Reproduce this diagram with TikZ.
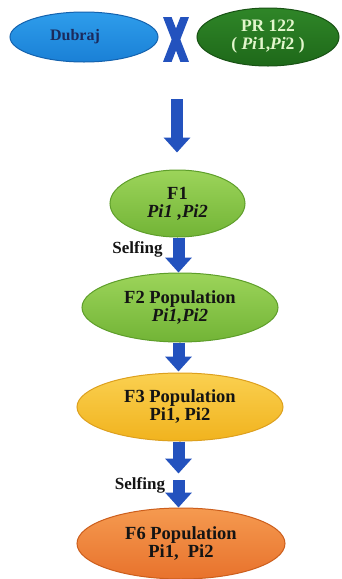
\documentclass[tikz,border=0pt]{standalone}
\usepackage{fontspec}
\setmainfont{Liberation Serif}
\usetikzlibrary{shapes.geometric,arrows.meta}
\definecolor{arrowblue}{HTML}{2352BE}
\definecolor{blueTop}{HTML}{2E9DEB}
\definecolor{blueBot}{HTML}{1A80D6}
\definecolor{blueEdge}{HTML}{1462AE}
\definecolor{dgTop}{HTML}{2F8628}
\definecolor{dgBot}{HTML}{1E6819}
\definecolor{dgEdge}{HTML}{185214}
\definecolor{lgTop}{HTML}{9CD45A}
\definecolor{lgBot}{HTML}{72B436}
\definecolor{lgEdge}{HTML}{5E9E2A}
\definecolor{yTop}{HTML}{FAD050}
\definecolor{yBot}{HTML}{F1B31E}
\definecolor{yEdge}{HTML}{DDA01E}
\definecolor{oTop}{HTML}{F59A50}
\definecolor{oBot}{HTML}{E8722C}
\definecolor{oEdge}{HTML}{CC5E1C}
\definecolor{navy}{HTML}{1B2A5C}
\definecolor{palegreen}{HTML}{E2F6CC}
\definecolor{ink}{HTML}{141414}
\tikzset{
  oval/.style={ellipse, inner sep=0pt, line width=1pt, align=center,
    font=\bfseries\fontsize{18.5}{18}\selectfont, text=ink},
  blueoval/.style={oval, draw=blueEdge, top color=blueTop, bottom color=blueBot, text=navy,
    font=\bfseries\fontsize{16}{17}\selectfont},
  dgoval/.style={oval, draw=dgEdge, top color=dgTop, bottom color=dgBot, text=palegreen,
    font=\bfseries\fontsize{17.5}{18}\selectfont},
  lgoval/.style={oval, draw=lgEdge, top color=lgTop, bottom color=lgBot},
  yoval/.style={oval, draw=yEdge, top color=yTop, bottom color=yBot},
  ooval/.style={oval, draw=oEdge, top color=oTop, bottom color=oBot},
  blockarrow/.style={draw=arrowblue, line width=12pt, line cap=butt,
    -{Triangle[width=26pt,length=15pt]}},
  crossline/.style={draw=arrowblue, line width=8pt, line cap=butt},
  lbl/.style={font=\bfseries\fontsize{17}{18}\selectfont, text=ink, inner sep=0pt}
}
\begin{document}
\begin{tikzpicture}[x=1pt,y=-1pt]
\useasboundingbox (0,0) rectangle (342,579);
\fill[white] (0,0) rectangle (342,579);

\node[blueoval, minimum width=148pt, minimum height=50pt] (dub) at (84,37) {\hspace*{-18pt}Dubraj};
\node[inner sep=0pt, minimum width=16pt, minimum height=43pt] (cross) at (176,39.5) {};
\begin{scope}
  \clip (cross.north west -| 160,0) rectangle (cross.south east -| 192,0);
  \draw[crossline] ([xshift=-1pt,yshift=2pt]cross.north west) -- ([xshift=1pt,yshift=-2pt]cross.south east);
  \draw[crossline] ([xshift=1pt,yshift=2pt]cross.north east) -- ([xshift=-1pt,yshift=-2pt]cross.south west);
\end{scope}
\node[dgoval, minimum width=142pt, minimum height=58pt] (pr) at (268,37)
  {PR 122\\( \textit{Pi}1,\textit{Pi}2 )};

\node[lgoval, minimum width=135pt, minimum height=67pt] (f1) at (177.5,203.5)
  {F1\\\textit{Pi1 ,Pi2}};
\node[lgoval, minimum width=196pt, minimum height=69pt] (f2) at (180,307.5)
  {F2 Population\\\textit{Pi1,Pi2}};
\node[yoval, minimum width=206pt, minimum height=68pt] (f3) at (180,407)
  {F3 Population\\Pi1, Pi2};
\node[ooval, minimum width=208pt, minimum height=71pt] (f6) at (181,543.5)
  {F6 Population\\Pi1,\ \ Pi2};

\coordinate (a1s) at (177,99);
\coordinate (a5s) at (178.5,480);

\draw[blockarrow, shorten >=17pt] (a1s) -- (f1.north -| a1s);
\draw[blockarrow] (f1.south -| 178.5,0) -- (f2.north -| 178.5,0);
\draw[blockarrow] (f2.south -| 178.5,0) -- ([yshift=1pt]f3.north -| 178.5,0);
\draw[blockarrow, shorten >=34pt] (f3.south -| 178.5,0) -- (f6.north -| 178.5,0);
\draw[blockarrow] (a5s) -- (f6.north -| a5s);

\node[lbl] (s1) at (137.5,249) {Selfing};
\node[lbl] (s2) at (140,485) {Selfing};
\end{tikzpicture}
\end{document}
